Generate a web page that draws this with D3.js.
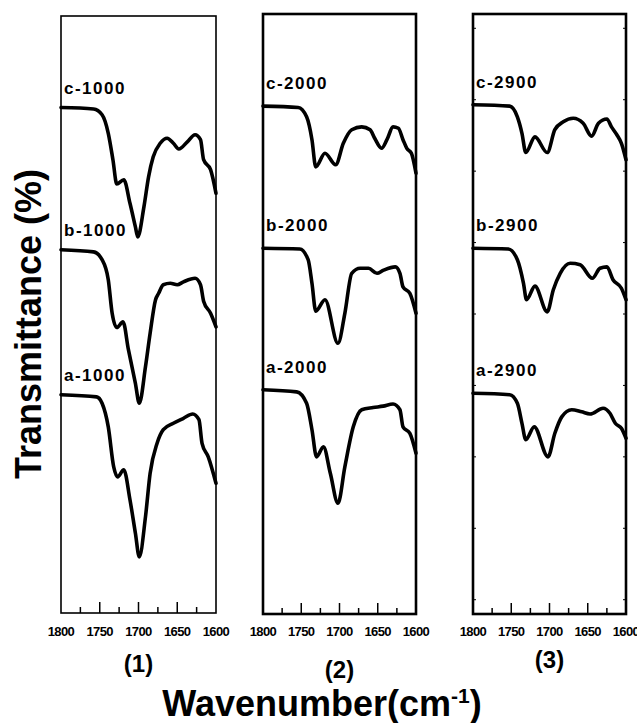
<!DOCTYPE html>
<html>
<head>
<meta charset="utf-8">
<script src="https://cdn.jsdelivr.net/npm/d3@7"></script>
<style>
  body { margin: 0; background: #fff; }
  text { font-family: 'Liberation Sans', Arial, sans-serif; fill: #000; }
</style>
</head>
<body>
<div id="chart"></div>
<script>
const width = 637
const height = 723

// wavenumber (cm-1), transmittance (arbitrary, offset)
const c1000 = [[1800, 68.9], [1758, 68.7], [1747, 67.9], [1739, 65.3], [1733, 61.6], [1728, 58.2], [1719, 58.8], [1711, 55.5], [1704, 52.2], [1701, 50.8], [1693, 55.0], [1687, 59.2], [1681, 62.0], [1672, 63.9], [1663, 64.6], [1655, 63.9], [1648, 63.1], [1637, 64.1], [1627, 65.1], [1620, 64.4], [1616, 61.6], [1607, 60.2], [1600, 56.9]]
const b1000 = [[1800, 49.0], [1758, 48.7], [1747, 47.6], [1739, 44.8], [1734, 40.1], [1728, 38.1], [1720, 38.9], [1713, 35.0], [1704, 30.3], [1699, 27.5], [1691, 32.6], [1685, 37.3], [1678, 42.0], [1674, 42.9], [1668, 44.1], [1659, 44.3], [1650, 44.1], [1642, 44.5], [1627, 45.0], [1620, 44.1], [1616, 41.8], [1607, 40.1], [1600, 38.2]]
const a1000 = [[1800, 28.7], [1754, 28.4], [1747, 27.5], [1739, 24.2], [1732, 18.6], [1727, 17.2], [1719, 18.2], [1711, 14.0], [1704, 9.3], [1699, 6.0], [1691, 11.6], [1685, 17.7], [1676, 21.9], [1668, 23.8], [1655, 24.7], [1642, 25.4], [1630, 26.0], [1622, 25.2], [1618, 21.9], [1610, 20.0], [1600, 16.3]]

const c2000 = [[1800, 69.1], [1754, 68.9], [1743, 67.6], [1736, 64.4], [1731, 60.6], [1719, 62.5], [1705, 60.9], [1695, 63.9], [1684, 65.8], [1671, 66.2], [1660, 65.8], [1654, 64.6], [1645, 63.2], [1638, 64.4], [1630, 66.2], [1623, 66.0], [1617, 64.4], [1612, 63.2], [1606, 62.5], [1600, 59.7]]
const b2000 = [[1800, 49.2], [1752, 49.1], [1741, 47.6], [1736, 44.3], [1731, 40.4], [1719, 42.0], [1702, 35.9], [1693, 40.1], [1684, 45.7], [1673, 46.4], [1662, 46.4], [1651, 45.7], [1643, 46.1], [1627, 46.6], [1621, 45.7], [1617, 43.8], [1608, 42.9], [1600, 40.1]]
const a2000 = [[1800, 29.4], [1756, 29.1], [1743, 27.5], [1736, 23.8], [1730, 20.0], [1721, 21.4], [1712, 17.7], [1702, 13.5], [1693, 18.6], [1682, 24.2], [1671, 26.6], [1656, 26.9], [1643, 27.1], [1630, 27.4], [1621, 26.6], [1617, 24.2], [1608, 23.3], [1600, 20.5]]

const c2900 = [[1800, 69.3], [1752, 69.1], [1742, 67.6], [1736, 65.3], [1731, 62.6], [1719, 64.8], [1703, 62.6], [1693, 65.8], [1682, 66.9], [1669, 67.4], [1656, 66.7], [1645, 64.9], [1636, 66.7], [1625, 67.3], [1619, 66.2], [1612, 65.1], [1606, 63.9], [1600, 61.6]]
const b2900 = [[1800, 49.2], [1754, 49.1], [1742, 47.6], [1734, 44.3], [1730, 42.0], [1719, 43.9], [1703, 40.3], [1695, 43.4], [1686, 45.7], [1673, 47.1], [1660, 46.9], [1644, 45.0], [1634, 46.4], [1625, 46.6], [1617, 44.8], [1606, 43.6], [1600, 42.0]]
const a2900 = [[1800, 28.9], [1752, 28.7], [1742, 27.5], [1736, 24.7], [1731, 22.4], [1720, 24.2], [1702, 20.0], [1693, 23.3], [1684, 25.6], [1671, 26.6], [1658, 26.3], [1647, 26.0], [1630, 26.8], [1621, 26.1], [1614, 24.7], [1606, 24.0], [1600, 22.6]]

const panelNames = ['(1)', '(2)', '(3)']
const curveNames = [
  ['c-1000', 'b-1000', 'a-1000'],
  ['c-2000', 'b-2000', 'a-2000'],
  ['c-2900', 'b-2900', 'a-2900']
]
const curveData = [
  [c1000, b1000, a1000],
  [c2000, b2000, a2000],
  [c2900, b2900, a2900]
]
const xTickLabels = [1800, 1750, 1700, 1650, 1600]
const xMinorTicks = [1775, 1725, 1675, 1625]
const xMajorTicks = [1750, 1700, 1650]
const yTicks = [0, 10, 20, 30, 40, 50, 60, 70, 80]

const layout = [
  { left: 61, right: 216, top: 16, bottom: 613, frame: 1.6, gap: 14, nameY: 672, yTicks: false },
  { left: 263, right: 416, top: 14, bottom: 614, frame: 2.6, gap: 17, nameY: 678, yTicks: false },
  { left: 473, right: 626, top: 14, bottom: 614, frame: 2.6, gap: 17, nameY: 668, yTicks: true }
]

const y = d3.scaleLinear().domain([-2, 82]).range([614, 14])

const svg = d3
  .select('#chart')
  .append('svg')
  .attr('width', width)
  .attr('height', height)

layout.forEach(function(p, i) {
  const x = d3.scaleLinear().domain([1800, 1600]).range([p.left, p.right])
  const g = svg.append('g')

  const line = d3
    .line()
    .x(d => x(d[0]))
    .y(d => y(d[1]))
    .curve(d3.curveMonotoneX)

  // minor / major ticks pointing inward
  g.selectAll('.minor')
    .data(xMinorTicks)
    .enter()
    .append('line')
    .attr('x1', d => x(d))
    .attr('x2', d => x(d))
    .attr('y1', p.bottom)
    .attr('y2', p.bottom - 6)
    .attr('stroke', '#000')
    .attr('stroke-width', 1.5)

  g.selectAll('.major')
    .data(xMajorTicks)
    .enter()
    .append('line')
    .attr('x1', d => x(d))
    .attr('x2', d => x(d))
    .attr('y1', p.bottom)
    .attr('y2', p.bottom - 11)
    .attr('stroke', '#000')
    .attr('stroke-width', 1.5)

  if (p.yTicks) {
    ;[p.left, p.right].forEach(function(edge, k) {
      g.selectAll('.yt' + k)
        .data(yTicks)
        .enter()
        .append('line')
        .attr('x1', edge)
        .attr('x2', k === 0 ? edge + 3 : edge - 3)
        .attr('y1', d => y(d))
        .attr('y2', d => y(d))
        .attr('stroke', '#000')
        .attr('stroke-width', 1)
    })
  }

  g.append('rect')
    .attr('x', p.left)
    .attr('y', p.top)
    .attr('width', p.right - p.left)
    .attr('height', p.bottom - p.top)
    .attr('fill', 'none')
    .attr('stroke', '#000')
    .attr('stroke-width', p.frame)

  g.selectAll('.tick-label')
    .data(xTickLabels)
    .enter()
    .append('text')
    .attr('x', d => x(d))
    .attr('y', 636)
    .attr('text-anchor', 'middle')
    .attr('font-size', 13)
    .attr('font-weight', 'bold')
    .attr('letter-spacing', -0.6)
    .text(d => d)

  g.selectAll('.spectrum')
    .data(curveData[i])
    .enter()
    .append('path')
    .attr('d', line)
    .attr('fill', 'none')
    .attr('stroke', '#000')
    .attr('stroke-width', 3.6)
    .attr('stroke-linejoin', 'round')
    .attr('stroke-linecap', 'round')

  g.selectAll('.curve-label')
    .data(curveData[i])
    .enter()
    .append('text')
    .attr('x', p.left + 3)
    .attr('y', d => y(d[0][1]) - p.gap)
    .attr('font-size', 17)
    .attr('font-weight', 'bold')
    .attr('letter-spacing', 1.5)
    .text((d, j) => curveNames[i][j])

  svg.append('text')
    .attr('x', (p.left + p.right) / 2)
    .attr('y', p.nameY)
    .attr('text-anchor', 'middle')
    .attr('font-size', 24)
    .attr('font-weight', 'bold')
    .text(panelNames[i])
})

svg.append('text')
  .attr('transform', 'translate(41,324) rotate(-90)')
  .attr('text-anchor', 'middle')
  .attr('font-size', 36)
  .attr('font-weight', 'bold')
  .text('Transmittance (%)')

const title = svg.append('text')
  .attr('x', 322)
  .attr('y', 716)
  .attr('text-anchor', 'middle')
  .attr('font-size', 36)
  .attr('font-weight', 'bold')
title.append('tspan').text('Wavenumber(cm')
title.append('tspan').attr('font-size', 21).attr('dy', -13).text('-1')
title.append('tspan').attr('dy', 13).text(')')
</script>
</body>
</html>
